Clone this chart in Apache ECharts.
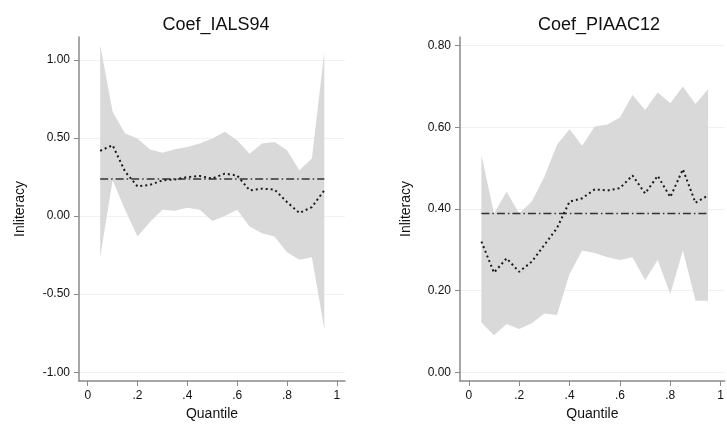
<!DOCTYPE html>
<html>
<head>
<meta charset="utf-8">
<script src="https://cdn.jsdelivr.net/npm/echarts@6/dist/echarts.min.js"></script>
<style>
html,body{margin:0;padding:0;background:#fff;}
#c{width:727px;height:427px;}
</style>
</head>
<body>
<div id="c"></div>
<script>
// ---- data ----
const quantiles = [0.05,0.10,0.15,0.20,0.25,0.30,0.35,0.40,0.45,0.50,0.55,0.60,0.65,0.70,0.75,0.80,0.85,0.90,0.95];

const ialsCoef  = [0.418,0.454,0.285,0.19,0.20,0.229,0.235,0.25,0.257,0.24,0.272,0.26,0.165,0.176,0.17,0.09,0.02,0.058,0.165];
const ialsUpper = [1.096,0.668,0.529,0.497,0.426,0.405,0.428,0.443,0.465,0.497,0.54,0.486,0.40,0.465,0.475,0.422,0.294,0.369,1.053];
const ialsLower = [-0.263,0.229,0.04,-0.13,-0.038,0.041,0.035,0.054,0.041,-0.032,0.0,0.041,-0.066,-0.109,-0.13,-0.231,-0.28,-0.263,-0.723];
const ialsOls = 0.238;

const piaacCoef  = [0.32,0.244,0.279,0.246,0.271,0.312,0.353,0.418,0.426,0.448,0.445,0.451,0.482,0.438,0.481,0.429,0.497,0.415,0.433];
const piaacUpper = [0.532,0.389,0.442,0.389,0.418,0.479,0.557,0.595,0.555,0.602,0.607,0.624,0.679,0.642,0.685,0.659,0.70,0.657,0.693];
const piaacLower = [0.122,0.091,0.118,0.106,0.12,0.144,0.14,0.241,0.298,0.292,0.282,0.275,0.282,0.226,0.275,0.192,0.298,0.175,0.175];
const piaacOls = 0.389;

const xTicks = [0,0.2,0.4,0.6,0.8,1];
const ialsYTicks = [-1,-0.5,0,0.5,1];
const piaacYTicks = [0,0.2,0.4,0.6,0.8];
const titles = ['Coef_IALS94','Coef_PIAAC12'];
const xName = 'Quantile';
const yName = 'Inliteracy';

// ---- build ----
const FONT = '"Liberation Sans", Arial, Helvetica, sans-serif';
const pairs = (ys) => quantiles.map((q,i)=>[q, ys[i]]);
const qEnds = [quantiles[0], quantiles[quantiles.length-1]];

function xAxis(gi, min, max){
  return {
    type:'value', gridIndex:gi, min:min, max:max,
    name:xName, nameLocation:'middle', nameGap:26,
    nameTextStyle:{fontFamily:FONT,fontSize:14,color:'#111'},
    axisLine:{show:true,onZero:false,lineStyle:{color:'#8a8a8a',width:1.5}},
    axisTick:{show:true,length:5,customValues:xTicks,lineStyle:{color:'#8a8a8a',width:1}},
    axisLabel:{customValues:xTicks,margin:9,fontFamily:FONT,fontSize:12,color:'#111',
      formatter:(v)=> v===0 ? '0' : (v===1 ? '1' : String(v).replace(/^0/,''))},
    splitLine:{show:false}
  };
}
function yAxis(gi, min, max, ticks, gap){
  return {
    type:'value', gridIndex:gi, min:min, max:max,
    name:yName, nameLocation:'middle', nameGap:gap,
    nameTextStyle:{fontFamily:FONT,fontSize:14,color:'#111'},
    axisLine:{show:true,onZero:false,lineStyle:{color:'#8a8a8a',width:1.5}},
    axisTick:{show:true,length:5,customValues:ticks,lineStyle:{color:'#8a8a8a',width:1}},
    axisLabel:{customValues:ticks,margin:9,fontFamily:FONT,fontSize:12,color:'#111',
      formatter:(v)=> v.toFixed(2)},
    splitLine:{show:true,lineStyle:{color:'#f1f1f1',width:1}}
  };
}
function panelSeries(gi, lower, upper, coef, ols){
  return [
    {type:'custom', xAxisIndex:gi, yAxisIndex:gi, data:[[quantiles[0], lower[0]]], silent:true, z:1,
      renderItem:(params, api)=>{
        const pts = [];
        for (let i=0;i<quantiles.length;i++) pts.push(api.coord([quantiles[i], upper[i]]));
        for (let i=quantiles.length-1;i>=0;i--) pts.push(api.coord([quantiles[i], lower[i]]));
        return {type:'polygon', shape:{points:pts}, style:{fill:'#d9d9d9', stroke:null}};
      }},
    {type:'line', xAxisIndex:gi, yAxisIndex:gi, data:qEnds.map(q=>[q, ols]),
      symbol:'none', lineStyle:{color:'#333',width:1.5,type:[8,3,1.5,3]}, z:3},
    {type:'line', xAxisIndex:gi, yAxisIndex:gi, data:pairs(coef),
      symbol:'none', lineStyle:{color:'#1a1a1a',width:2,type:[2,3],cap:'butt'}, z:4}
  ];
}

const option = {
  animation:false,
  backgroundColor:'#fff',
  title:[
    {text:titles[0], left:211, top:11, textAlign:'center', textStyle:{fontFamily:FONT,fontSize:18,fontWeight:'normal',color:'#111'}},
    {text:titles[1], left:594, top:11, textAlign:'center', textStyle:{fontFamily:FONT,fontSize:18,fontWeight:'normal',color:'#111'}}
  ],
  grid:[
    {left:79, right:382, top:37, bottom:46, containLabel:false},
    {left:460, right:0, top:37, bottom:46, containLabel:false}
  ],
  xAxis:[ xAxis(0,-0.035,1.033), xAxis(1,-0.035,1.016) ],
  yAxis:[ yAxis(0,-1.056,1.147,ialsYTicks,52), yAxis(1,-0.0213,0.821,piaacYTicks,47) ],
  series:[
    ...panelSeries(0, ialsLower, ialsUpper, ialsCoef, ialsOls),
    ...panelSeries(1, piaacLower, piaacUpper, piaacCoef, piaacOls)
  ]
};
const chart = echarts.init(document.getElementById('c'), null, {renderer:'canvas'});
chart.setOption(option);
</script>
</body>
</html>
